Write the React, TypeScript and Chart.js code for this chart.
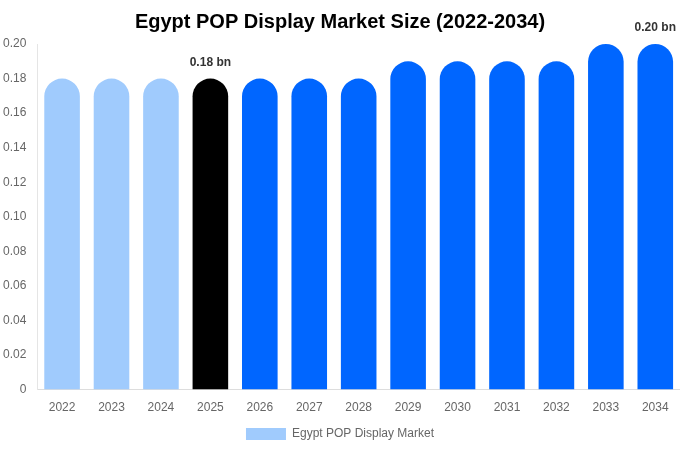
import React, { useEffect, useRef } from "react";
import { Chart, registerables } from "chart.js";

Chart.register(...registerables);

const years = ["2022", "2023", "2024", "2025", "2026", "2027", "2028", "2029", "2030", "2031", "2032", "2033", "2034"];
const values = [0.18, 0.18, 0.18, 0.18, 0.18, 0.18, 0.18, 0.19, 0.19, 0.19, 0.19, 0.2, 0.2];
const barColors = ["#a0cbfd", "#a0cbfd", "#a0cbfd", "#000000", "#0066ff", "#0066ff", "#0066ff", "#0066ff", "#0066ff", "#0066ff", "#0066ff", "#0066ff", "#0066ff"];
const annotations: { [k: number]: string } = { 3: "0.18 bn", 12: "0.20 bn" };

const FONT = "'Liberation Sans', Arial, sans-serif";

const labelPlugin = {
  id: "barLabels",
  afterDatasetsDraw(chart: any) {
    const ctx = chart.ctx;
    const meta = chart.getDatasetMeta(0);
    ctx.save();
    ctx.font = `bold 12px ${FONT}`;
    ctx.fillStyle = "#333333";
    ctx.textAlign = "center";
    ctx.textBaseline = "bottom";
    Object.keys(annotations).forEach((k) => {
      const i = Number(k);
      const el = meta.data[i];
      if (el) {
        const w = ctx.measureText(annotations[i]).width;
        const x = Math.min(el.x, chart.width - 4 - w / 2);
        ctx.fillText(annotations[i], x, el.y - 10);
      }
    });
    ctx.restore();
  },
};

export default function App() {
  const ref = useRef<HTMLCanvasElement>(null);
  useEffect(() => {
    if (!ref.current) return;
    const chart = new Chart(ref.current, {
      type: "bar",
      data: {
        labels: years,
        datasets: [
          {
            label: "Egypt POP Display Market",
            data: values,
            backgroundColor: barColors,
            borderRadius: 100,
            categoryPercentage: 0.8,
            barPercentage: 0.9,
          },
        ],
      },
      options: {
        animation: false,
        responsive: true,
        maintainAspectRatio: false,
        layout: { padding: { left: 0, right: 0, top: 0, bottom: 0 } },
        plugins: {
          title: {
            display: true,
            text: "Egypt POP Display Market Size (2022-2034)",
            font: { family: FONT, size: 20, weight: "bold" },
            color: "#000000",
            padding: { top: 10, bottom: 10 },
          },
          legend: {
            position: "bottom",
            labels: {
              font: { family: FONT, size: 12 },
              color: "#666666",
              boxWidth: 40,
              boxHeight: 12,
              generateLabels: () => [
                {
                  text: "Egypt POP Display Market",
                  fillStyle: "#a0cbfd",
                  strokeStyle: "#a0cbfd",
                  lineWidth: 0,
                  hidden: false,
                  datasetIndex: 0,
                  fontColor: "#666666",
                },
              ],
            },
          },
          tooltip: { enabled: false },
        },
        scales: {
          x: {
            grid: { display: false },
            border: { display: true, color: "#dddddd" },
            ticks: { font: { family: FONT, size: 12 }, color: "#666666" },
          },
          y: {
            min: 0,
            max: 0.2,
            grid: { display: false },
            border: { display: true, color: "#e5e5e5" },
            ticks: {
              stepSize: 0.02,
              font: { family: FONT, size: 12 },
              color: "#666666",
              callback: (v: any) => (Number(v) === 0 ? "0" : Number(v).toFixed(2)),
            },
          },
        },
      },
      plugins: [labelPlugin],
    });
    return () => chart.destroy();
  }, []);
  return (
    <div style={{ position: "fixed", left: 0, top: 0, width: 680, height: 450 }}>
      <canvas ref={ref} />
    </div>
  );
}
